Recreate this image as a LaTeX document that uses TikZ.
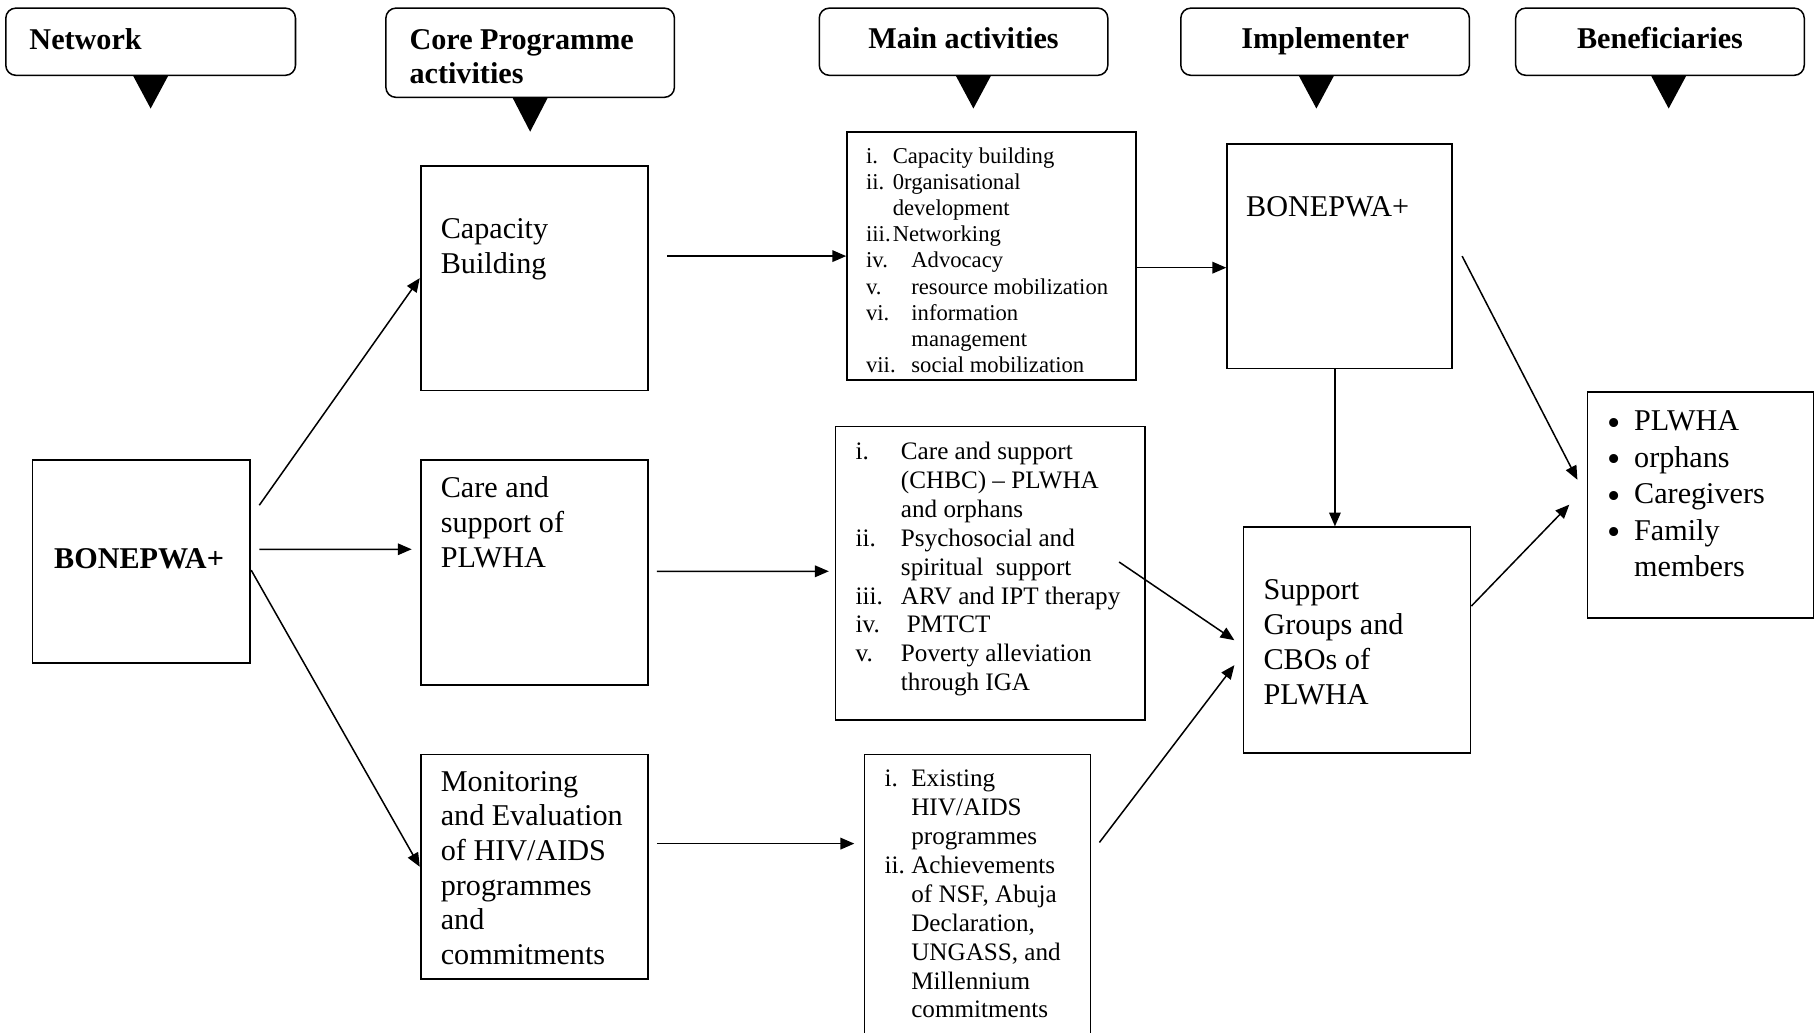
\documentclass[tikz,border=0pt]{standalone}
\usepackage{fontspec}
\setmainfont{Liberation Serif}
\usepackage{tikz}
\usetikzlibrary{arrows.meta,positioning,calc,fit}

\newcommand{\li}[2]{\makebox[#1][l]{#2}}
\newcommand{\bul}{\smash{\raisebox{-1.8pt}{\fontsize{15}{14.5}\selectfont\textbullet}}}

\begin{document}
\begin{tikzpicture}[
        x=0.4608pt, y=0.4608pt,
        font=\fontsize{12}{13.8}\selectfont,
        >={Triangle[length=5.5pt,width=4.6pt]},
        head/.style={rectangle,draw,rounded corners=4pt,line width=0.6pt,inner sep=0pt},
        htxt/.style={anchor=base,inner sep=0pt,font=\fontsize{12}{13.4}\selectfont\bfseries},
        box/.style={rectangle,draw,line width=0.7pt,inner sep=0pt},
        txt/.style={anchor=north west,inner sep=0pt,align=left},
        small/.style={txt,font=\fontsize{9}{10.4}\selectfont},
        mid/.style={txt,font=\fontsize{10}{11.5}\selectfont},
        arrow/.style={->,line width=0.6pt}
    ]
        \useasboundingbox (0,0) rectangle (1568,-891);
        \clip (0,0) rectangle (1568,-891);

        \node[head,fit={(5,-7) (255,-65)}] (hnet) {};
        \node[head,fit={(333,-7) (582,-84)}] (hcore) {};
        \node[head,fit={(707,-7) (956,-65)}] (hmain) {};
        \node[head,fit={(1019,-7) (1268,-65)}] (himp) {};
        \node[head,fit={(1308,-7) (1557,-65)}] (hben) {};
        \node[txt,font=\fontsize{12}{13.4}\selectfont\bfseries] (hnettxt) at (25,-24) {Network};
        \node[txt,font=\fontsize{12}{13.4}\selectfont\bfseries] (hcoretxt) at (353,-25) {Core Programme\\activities};
        \node[htxt] (hmaintxt) at (831.5,-41.5) {Main activities};
        \node[htxt] (himptxt) at (1143.5,-41.5) {Implementer};
        \node[htxt] (hbentxt) at (1432.5,-41.5) {Beneficiaries};

        \fill ($(hnet.south)+(-15,0)$) -- ++(30,0) -- ++(-15,-28) -- cycle;
        \fill ($(hcore.south)+(-15,0)$) -- ++(30,0) -- ++(-15,-29) -- cycle;
        \fill ($(hmain.south)+(-6.5,0)$) -- ++(30,0) -- ++(-15,-28) -- cycle;
        \fill ($(himp.south)+(-22.5,0)$) -- ++(30,0) -- ++(-15,-28) -- cycle;
        \fill ($(hben.south)+(-7.5,0)$) -- ++(30,0) -- ++(-15,-28) -- cycle;

        \node[box,fit={(28,-397) (216,-572)}] (bon) {};
        \node[box,fit={(363,-143) (559,-337)}] (cap) {};
        \node[box,fit={(363,-397) (559,-591)}] (care) {};
        \node[box,fit={(363,-651) (559,-845)}] (mon) {};
        \node[box,fit={(731,-114) (980,-328)}] (act1) {};
        \node[box,fit={(721,-368) (988,-621)}] (act2) {};
        \node[box,fit={(746,-651) (941,-905)}] (act3) {};
        \node[box,fit={(1059,-124) (1253,-318)}] (imp) {};
        \node[box,fit={(1073,-455) (1269,-650)}] (sup) {};
        \node[box,fit={(1370,-338) (1565,-533)}] (ben) {};

        \node[htxt] (bontxt) at (120,-490.5) {BONEPWA+};
        \node[txt] (captxt) at (380,-188) {Capacity\\Building};
        \node[txt] (caretxt) at (380,-411) {Care and\\support of\\PLWHA};
        \node[txt] (montxt) at (380,-665) {Monitoring\\and Evaluation\\of HIV/AIDS\\programmes\\and\\commitments};
        \node[small] (act1txt) at (747,-127) {\li{10.6pt}{i.}Capacity building\\
            \li{10.6pt}{ii.}0rganisational\\
            \li{10.6pt}{}development\\
            \li{10.6pt}{iii.}Networking\\
            \li{18pt}{iv.}Advocacy\\
            \li{18pt}{v.}resource mobilization\\
            \li{18pt}{vi.}information\\
            \li{18pt}{}management\\
            \li{18pt}{vii.}social mobilization};
        \node[mid] (act2txt) at (738,-381) {\li{18pt}{i.}Care and support\\
            \li{18pt}{}(CHBC) – PLWHA\\
            \li{18pt}{}and orphans\\
            \li{18pt}{ii.}Psychosocial and\\
            \li{18pt}{}spiritual\ \ support\\
            \li{18pt}{iii.}ARV and IPT therapy\\
            \li{18pt}{iv.}\hspace{2.3pt}PMTCT\\
            \li{18pt}{v.}Poverty alleviation\\
            \li{18pt}{}through IGA};
        \node[mid] (act3txt) at (763,-664) {\li{10.6pt}{i.}Existing\\
            \li{10.6pt}{}HIV/AIDS\\
            \li{10.6pt}{}programmes\\
            \li{10.6pt}{ii.}Achievements\\
            \li{10.6pt}{}of NSF, Abuja\\
            \li{10.6pt}{}Declaration,\\
            \li{10.6pt}{}UNGASS, and\\
            \li{10.6pt}{}Millennium\\
            \li{10.6pt}{}commitments};
        \node[txt] (imptxt) at (1075,-169) {BONEPWA+};
        \node[txt] (suptxt) at (1090,-500) {Support\\Groups and\\CBOs of\\PLWHA};
        \node[txt,font=\fontsize{12}{14.5}\selectfont] (bentxt) at (1387,-354) {\li{10.5pt}{\bul}PLWHA\\
            \li{10.5pt}{\bul}orphans\\
            \li{10.5pt}{\bul}Caregivers\\
            \li{10.5pt}{\bul}Family\\
            \li{10.5pt}{}members};

        \draw[arrow] ($(bon.east)+(7,48.5)$) -- (cap.west);
        \draw[arrow] ($(bon.east)+(7,10.5)$) -- ($(care.west)+(-7,20)$);
        \draw[arrow] ($(bon.east)+(0,-7.5)$) -- (mon.west);
        \draw[arrow] ($(cap.east)+(16,19)$) -- (act1.west);
        \draw[arrow] ($(care.east)+(7,1)$) -- ($(act2.west)+(-5,1.5)$);
        \draw[arrow] ($(mon.east)+(7,20)$) -- ($(act3.west)+(-8,50)$);
        \draw[arrow] ($(act1.east)+(0,-10)$) -- ($(imp.west)+(0,-10)$);
        \draw[arrow] ($(imp.south)+(-4,0)$) -- ($(sup.north)+(-19,0)$);
        \draw[arrow] ($(act2.east)+(-23,9.5)$) -- ($(sup.west)+(-7,0)$);
        \draw[arrow] ($(act3.east)+(7,51)$) -- ($(sup.west)+(-7,-21.5)$);
        \draw[arrow] ($(imp.east)+(8,0)$) -- ($(ben.west)+(-8,21.5)$);
        \draw[arrow] ($(sup.east)+(0,29.5)$) -- ($(ben.west)+(-15,0)$);
    \end{tikzpicture}
\end{document}
